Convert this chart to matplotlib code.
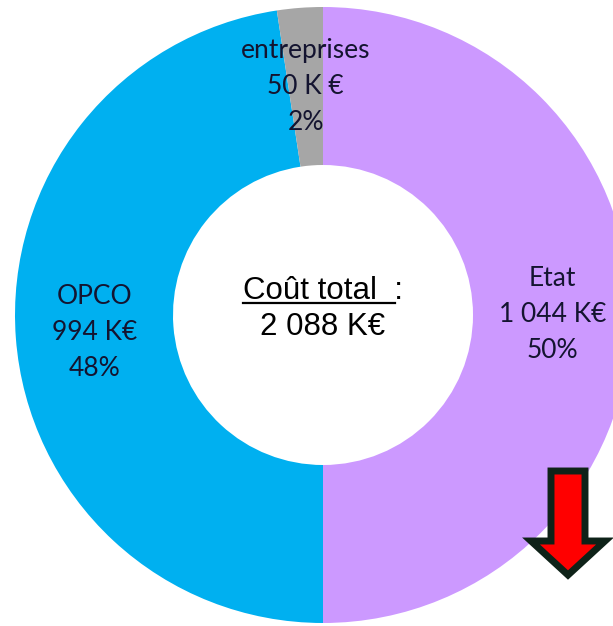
import matplotlib.pyplot as plt
from matplotlib.patches import FancyArrow

# financement par financeur (K€)
names = ["Etat", "OPCO", "entreprises"]
values = [1044, 994, 50]
units = ["K€", "K€", "K €"]
colors = ["#CC99FF", "#00B0F0", "#A6A6A6"]

total = sum(values)


def kfmt(v):
    # séparateur de milliers : espace
    return f"{v:,}".replace(",", " ")


labels = [f"{n}\n{kfmt(v)} {u}\n{round(100 * v / total)}%"
          for n, v, u in zip(names, values, units)]

fig = plt.figure(figsize=(6.13, 6.26), dpi=100)
ax = fig.add_axes([0, 0, 1, 1])

ax.pie(values, labels=labels, colors=colors, startangle=90, counterclock=False,
       center=(323, 311), radius=308, labeldistance=0.745,
       wedgeprops=dict(width=158, linewidth=0),
       textprops=dict(ha='center', va='center', fontsize=19, family='Lato',
                      color='#141430', linespacing=1.55))
ax.set_xlim(0, 613)
ax.set_ylim(0, 626)
ax.axis('off')

# texte central, "Coût total" souligné
title = ax.text(323, 335, "Coût total  :", ha='center', va='center',
                fontsize=22.5, family='Liberation Sans')
ax.text(323, 299, f"{kfmt(total)} K€", ha='center', va='center',
        fontsize=22.5, family='Liberation Sans')

fig.canvas.draw()
r = fig.canvas.get_renderer()
bb = title.get_window_extent(r)
colon = ax.text(0, 0, ":", fontsize=22.5, family='Liberation Sans')
cw = colon.get_window_extent(r).width
colon.remove()
ax.plot([bb.x0, bb.x1 - cw + 1], [bb.y0 + 3, bb.y0 + 3], color='black', lw=1.6)

# flèche de baisse
ax.add_patch(FancyArrow(568, 155, 0, -104, width=34, head_width=74,
                        head_length=34, length_includes_head=True,
                        fc='#FF0000', ec='#0e2218', lw=5, joinstyle='miter',
                        clip_on=False))

fig.savefig("out.png", dpi=100)
